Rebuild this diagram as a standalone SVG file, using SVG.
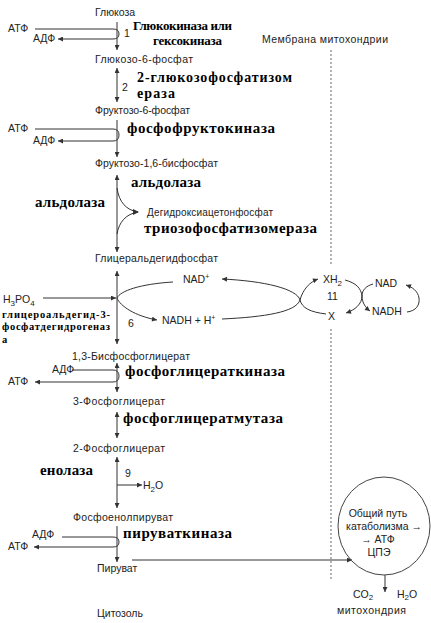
<svg xmlns="http://www.w3.org/2000/svg" width="431" height="623" viewBox="0 0 431 623">
<style>
.t{font-family:"Liberation Sans",Arial,sans-serif;font-size:10.5px;fill:#222}
.s{font-size:10px}
.e{font-family:"Liberation Serif","Times New Roman",serif;font-weight:bold;font-size:15px;fill:#000}
.e14{font-size:14px}
.e13{font-size:13px}
.e10{font-size:10.5px}
.ln{fill:none;stroke:#333;stroke-width:1}
.dash{fill:none;stroke:#666;stroke-width:1;stroke-dasharray:2,2}
</style>
<defs>
<marker id="ah" viewBox="0 0 10 10" refX="10" refY="5" markerWidth="6" markerHeight="5" orient="auto-start-reverse" markerUnits="userSpaceOnUse">
<path d="M0,0 L10,5 L0,10 z" fill="#333"/>
</marker>
</defs>
<rect width="431" height="623" fill="#fff"/>

<g id="connectors">
<line class="ln" x1="117" y1="22" x2="117" y2="50" marker-end="url(#ah)"/>
<path class="ln" d="M35,29 H113 Q119,29 119,34 Q119,39 113,39 H58" marker-end="url(#ah)"/>
<line class="ln" x1="117" y1="68" x2="117" y2="102" marker-start="url(#ah)" marker-end="url(#ah)"/>
<line class="ln" x1="117" y1="120" x2="117" y2="157" marker-end="url(#ah)"/>
<path class="ln" d="M35,129 H113 Q119,129 119,135 Q119,141 113,141 H58" marker-end="url(#ah)"/>
<line class="ln" x1="117" y1="175" x2="117" y2="252" marker-start="url(#ah)" marker-end="url(#ah)"/>
<path class="ln" d="M117,188 C119,202 126,210 138,212"/>
<path class="ln" d="M117,234 C119,222 126,214 138,212"/>
<path d="M133,209 L139,212 L133,215 z" fill="#333"/>
<line class="ln" x1="117" y1="271" x2="117" y2="344" marker-start="url(#ah)" marker-end="url(#ah)"/>
<line class="ln" x1="43" y1="298" x2="116" y2="298" marker-end="url(#ah)"/>
<path class="ln" d="M173,282 C140,284 120,291 117,298 C120,306 135,316 157,320" marker-end="url(#ah)"/>
<path class="ln" d="M222,319 C265,317 296,312 300,300 C303,289 310,282 318,279" marker-end="url(#ah)"/>
<path class="ln" d="M326,314 C310,312 302,308 300,300 C297,289 265,281 222,279" marker-end="url(#ah)"/>
<path class="ln" d="M345,280 C356,283 361,288 362,296 C362,304 355,310 346,313" marker-end="url(#ah)"/>
<path class="ln" d="M373,284 C366,286 362,290 362,296 C362,303 366,308 370,311" marker-end="url(#ah)"/>
<path class="ln" d="M407,312 C416,311 420,305 419,298 C418,291 412,287 406,285" marker-end="url(#ah)"/>
<line class="ln" x1="117" y1="363" x2="117" y2="392" marker-start="url(#ah)" marker-end="url(#ah)"/>
<path class="ln" d="M72,370 H113 Q119,370 119,376 Q119,382 113,382 H35" marker-end="url(#ah)"/>
<line class="ln" x1="117" y1="412" x2="117" y2="438" marker-start="url(#ah)" marker-end="url(#ah)"/>
<line class="ln" x1="117" y1="457" x2="117" y2="508" marker-start="url(#ah)" marker-end="url(#ah)"/>
<line class="ln" x1="117" y1="485" x2="142" y2="485" marker-end="url(#ah)"/>
<line class="ln" x1="117" y1="526" x2="117" y2="562" marker-end="url(#ah)"/>
<path class="ln" d="M62,537 H113 Q119,537 119,542 Q119,547 113,547 H34" marker-end="url(#ah)"/>
<line class="ln" x1="132" y1="560" x2="352" y2="560" marker-end="url(#ah)"/>
<line class="ln" x1="385" y1="575" x2="385" y2="592" marker-end="url(#ah)"/>
</g>

<g id="membrane">
<line class="dash" x1="331" y1="50" x2="331" y2="266"/>
<line class="dash" x1="331" y1="329" x2="331" y2="580"/>
<text class="t" x="262" y="43" font-size="11" textLength="126">Мембрана митохондрии</text>
</g>

<g id="glucose"><text class="t" x="95" y="16">Глюкоза</text></g>
<g id="step1">
<text class="t" x="8" y="32">АТФ</text>
<text class="t" x="33" y="42">АДФ</text>
<text class="t" x="124" y="37">1</text>
<text class="e e13" x="133" y="30" textLength="99">Глюкокиназа или</text>
<text class="e e13" x="153" y="45" textLength="69">гексокиназа</text>
</g>
<g id="g6p"><text class="t" x="95" y="63" textLength="98">Глюкозо-6-фосфат</text></g>
<g id="step2">
<text class="t" x="122" y="91">2</text>
<text class="e e14" x="137" y="82" textLength="155">2-глюкозофосфатизом</text>
<text class="e e14" x="137" y="98" textLength="38">ераза</text>
</g>
<g id="f6p"><text class="t" x="95" y="114" textLength="95">Фруктозо-6-фосфат</text></g>
<g id="step3">
<text class="t" x="8" y="132">АТФ</text>
<text class="t" x="33" y="144">АДФ</text>
<text class="e" x="127" y="133" textLength="148">фосфофруктокиназа</text>
</g>
<g id="f16bp"><text class="t" x="95" y="167" textLength="123">Фруктозо-1,6-бисфосфат</text></g>
<g id="aldolase">
<text class="e" x="131" y="187" textLength="70">альдолаза</text>
<text class="e" x="35" y="207" textLength="70">альдолаза</text>
</g>
<g id="dhap">
<text class="t s" x="147" y="216" textLength="126">Дегидроксиацетонфосфат</text>
<text class="e" x="144" y="233" textLength="173">триозофосфатизомераза</text>
</g>
<g id="gap"><text class="t" x="95" y="262" textLength="123">Глицеральдегидфосфат</text></g>
<g id="step6">
<text class="t" x="183" y="283">NAD<tspan dy="-4" font-size="7">+</tspan></text>
<text class="t" x="3" y="303">H<tspan dy="3" font-size="8">3</tspan><tspan dy="-3">PO</tspan><tspan dy="3" font-size="8">4</tspan></text>
<text class="t" x="162" y="324">NADH + H<tspan dy="-4" font-size="7">+</tspan></text>
<text class="t" x="128" y="327">6</text>
<text class="e e10" x="2" y="318" textLength="108">глицероальдегид-3-</text>
<text class="e e10" x="2" y="330" textLength="108">фосфатдегидрогеназ</text>
<text class="e e10" x="2" y="343">а</text>
</g>
<g id="shuttle">
<text class="t" x="323" y="283">XH<tspan dy="3" font-size="8">2</tspan></text>
<text class="t" x="327" y="300">11</text>
<text class="t" x="328" y="320">X</text>
<text class="t" x="375" y="287">NAD</text>
<text class="t" x="372" y="315">NADH</text>
</g>
<g id="bpg"><text class="t" x="72" y="360" textLength="118">1,3-Бисфосфоглицерат</text></g>
<g id="step7">
<text class="t" x="52" y="373">АДФ</text>
<text class="t" x="8" y="385">АТФ</text>
<text class="e" x="125" y="376" textLength="160">фосфоглицераткиназа</text>
</g>
<g id="pg3"><text class="t" x="73" y="405" textLength="92">3-Фосфоглицерат</text></g>
<g id="mutase"><text class="e" x="123" y="423" textLength="160">фосфоглицератмутаза</text></g>
<g id="pg2"><text class="t" x="73" y="452" textLength="92">2-Фосфоглицерат</text></g>
<g id="enolase">
<text class="e" x="40" y="475" textLength="53">енолаза</text>
<text class="t" x="125" y="477">9</text>
<text class="t" x="143" y="489">H<tspan dy="3" font-size="8">2</tspan><tspan dy="-3">O</tspan></text>
</g>
<g id="pep"><text class="t" x="73" y="521" textLength="100">Фосфоенолпируват</text></g>
<g id="step10">
<text class="t" x="32" y="538">АДФ</text>
<text class="t" x="8" y="550">АТФ</text>
<text class="e" x="123" y="538" textLength="109">пируваткиназа</text>
</g>
<g id="pyruvate"><text class="t" x="97" y="572">Пируват</text></g>
<g id="cytosol"><text class="t" x="97" y="617" font-size="11">Цитозоль</text></g>
<g id="catabolism">
<ellipse cx="384" cy="526" rx="46" ry="49" fill="none" stroke="#444" stroke-width="1"/>
<text class="t" x="378" y="517" font-size="11" text-anchor="middle">Общий путь</text>
<text class="t" x="384" y="530" font-size="11" text-anchor="middle">катаболизма →</text>
<text class="t" x="378" y="543" font-size="11" text-anchor="middle">→ АТФ</text>
<text class="t" x="379" y="556" font-size="11" text-anchor="middle">ЦПЭ</text>
</g>
<g id="products">
<text class="t" x="353" y="598" font-size="11">CO<tspan dy="2" font-size="8">2</tspan></text>
<text class="t" x="397" y="598" font-size="11">H<tspan dy="2" font-size="8">2</tspan><tspan dy="-2">O</tspan></text>
<text class="t" x="337" y="614" font-size="10" textLength="69">митохондрия</text>
</g>
</svg>
